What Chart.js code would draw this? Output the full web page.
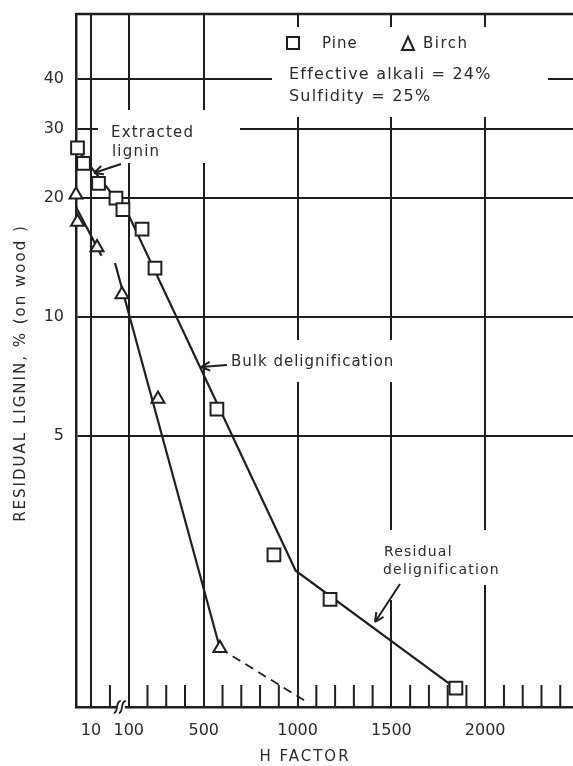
<!DOCTYPE html>
<html>
<head>
<meta charset="utf-8">
<script src="https://cdn.jsdelivr.net/npm/chart.js@4/dist/chart.umd.min.js"></script>
<style>
  html, body { margin: 0; padding: 0; background: #fff; }
</style>
</head>
<body>
<canvas id="graficoLignina" width="573" height="766"></canvas>
<script>
// measured points (H factor, residual lignin % on wood)
const pineH = [1, 5, 15, 32, 69, 171, 240, 570, 874, 1173, 1844];
const pineLignin = [26.8, 24.5, 21.8, 20.0, 18.7, 16.7, 13.3, 5.85, 2.50, 1.93, 1.15];
const birchH = [0, 1, 14, 64, 256, 586];
const birchLignin = [20.4, 17.4, 15.0, 11.4, 6.2, 1.45];

// drawn trend lines
const pineFitH = [0, 100, 990, 1830];
const pineFitLignin = [26.8, 18.1, 2.28, 1.16];
const birchEarlyH = [0, 17];
const birchEarlyLignin = [19.0, 14.3];
const birchBulkH = [27, 586];
const birchBulkLignin = [13.7, 1.45];
const birchTailH = [586, 1050];
const birchTailLignin = [1.45, 1.06];

// axes
const xTickValues = [10, 100, 500, 1000, 1500, 2000];
const xTickLabels = ['10', '100', '500', '1000', '1500', '2000'];
const yTickValues = [5, 10, 20, 30, 40];
const yTickLabels = ['5', '10', '20', '30', '40'];

// the H axis is broken: values below BREAK_H sit on a stretched stub
const BREAK_H = 20;
const LEFT_ORIGIN = -181;
const LEFT_STRETCH = 8;
const axisH = h => (h < BREAK_H ? LEFT_ORIGIN + h * LEFT_STRETCH : h);
const toPoints = (hs, vs) => hs.map((h, i) => ({ x: axisH(h), y: vs[i] }));

const INK = '#1f1f1f';
const FONT = '"DejaVu Sans", sans-serif';

// white patches where the lettering interrupts the grid
const gaps = [
  [98, 110, 240, 163],
  [272, 27, 548, 117],
  [222, 340, 405, 382],
  [378, 530, 505, 585],
  [386, 585, 398, 600]
];

function text(ctx, str, x, y, size, spacing) {
  ctx.font = size + 'px ' + FONT;
  ctx.letterSpacing = spacing + 'px';
  ctx.textBaseline = 'middle';
  ctx.fillText(str, x, y);
}

function arrow(ctx, x0, y0, x1, y1) {
  const ang = Math.atan2(y1 - y0, x1 - x0);
  ctx.beginPath();
  ctx.moveTo(x0, y0);
  ctx.lineTo(x1, y1);
  for (const s of [-1, 1]) {
    ctx.moveTo(x1, y1);
    ctx.lineTo(x1 - 10 * Math.cos(ang + s * 0.45), y1 - 10 * Math.sin(ang + s * 0.45));
  }
  ctx.stroke();
}

const decor = {
  id: 'decor',
  beforeDatasetsDraw(chart) {
    const { ctx, chartArea: a, scales: { x } } = chart;
    ctx.save();
    ctx.fillStyle = '#fff';
    gaps.forEach(([x0, y0, x1, y1]) => ctx.fillRect(x0, y0, x1 - x0, y1 - y0));

    ctx.strokeStyle = INK;
    ctx.lineWidth = 2.5;
    ctx.beginPath();
    ctx.moveTo(a.left, a.top);
    ctx.lineTo(a.right, a.top);
    ctx.stroke();

    // short ticks every 100 along the H axis
    ctx.lineWidth = 2;
    ctx.beginPath();
    for (let h = 0; h <= 2400; h += 100) {
      if (xTickValues.includes(h)) continue;
      const px = x.getPixelForValue(h);
      ctx.moveTo(px, a.bottom);
      ctx.lineTo(px, a.bottom - 22);
    }
    ctx.stroke();

    // break mark
    const bx = x.getPixelForValue(58);
    ctx.fillStyle = '#fff';
    ctx.fillRect(bx - 4, a.bottom - 6, 8, 12);
    ctx.lineWidth = 1.8;
    for (const dx of [-3, 2]) {
      ctx.beginPath();
      ctx.moveTo(bx + dx - 4, a.bottom + 6);
      ctx.bezierCurveTo(bx + dx + 1, a.bottom + 6, bx + dx - 3, a.bottom - 6, bx + dx + 3, a.bottom - 6);
      ctx.stroke();
    }

    // legend and cooking conditions
    ctx.fillStyle = '#2a2a2a';
    ctx.lineWidth = 2;
    ctx.strokeRect(287, 37, 12, 12);
    text(ctx, 'Pine', 322, 44, 15, 1);
    ctx.beginPath();
    ctx.moveTo(408, 37);
    ctx.lineTo(414, 50);
    ctx.lineTo(402, 50);
    ctx.closePath();
    ctx.stroke();
    text(ctx, 'Birch', 423, 44, 15, 1.5);
    text(ctx, 'Effective alkali = 24%', 289, 75, 16, 1.2);
    text(ctx, 'Sulfidity = 25%', 289, 97, 16, 1.2);

    // callouts
    text(ctx, 'Extracted', 111, 133, 15, 1.2);
    text(ctx, 'lignin', 112, 152, 15, 1.2);
    arrow(ctx, 121, 164, 94, 173);
    text(ctx, 'Bulk delignification', 231, 362, 15, 1);
    arrow(ctx, 227, 365, 201, 367);
    text(ctx, 'Residual', 384, 552, 14, 1.2);
    text(ctx, 'delignification', 383, 570, 14, 1.2);
    arrow(ctx, 400, 584, 375, 622);

    // axis titles
    ctx.textAlign = 'center';
    text(ctx, 'H FACTOR', 305, 757, 15, 2);
    ctx.translate(21, 373);
    ctx.rotate(-Math.PI / 2);
    text(ctx, 'RESIDUAL LIGNIN, % (on wood )', 0, 0, 15, 2);
    ctx.restore();
  }
};

const lineSet = (data, extra) => Object.assign({
  data, showLine: true, borderColor: INK, borderWidth: 2.2,
  pointRadius: 0, order: 2, clip: false
}, extra);

const markSet = (data, style, radius) => ({
  data, showLine: false, pointStyle: style, pointRadius: radius, clip: false,
  pointBackgroundColor: '#fff', pointBorderColor: INK, pointBorderWidth: 2, order: 1
});

new Chart(document.getElementById('graficoLignina'), {
  type: 'scatter',
  data: {
    datasets: [
      lineSet(toPoints(pineFitH, pineFitLignin)),
      lineSet(toPoints(birchEarlyH, birchEarlyLignin)),
      lineSet(toPoints(birchBulkH, birchBulkLignin)),
      lineSet(toPoints(birchTailH, birchTailLignin), { borderDash: [9, 6], borderWidth: 1.8 }),
      markSet(toPoints(pineH, pineLignin), 'rect', 9),
      markSet(toPoints(birchH, birchLignin), 'triangle', 7.5)
    ]
  },
  options: {
    responsive: false,
    animation: false,
    layout: { autoPadding: false, padding: { top: 14, right: 0, left: 0, bottom: 0 } },
    plugins: { legend: { display: false }, tooltip: { enabled: false } },
    scales: {
      x: {
        type: 'linear',
        min: axisH(0),
        max: 2468,
        afterBuildTicks: s => { s.ticks = xTickValues.map(h => ({ value: axisH(h) })); },
        afterFit: s => { s.height = 59; s.paddingLeft = 0; s.paddingRight = 0; },
        ticks: {
          callback: (v, i) => xTickLabels[i],
          autoSkip: false, maxRotation: 0, padding: 14,
          color: '#2a2a2a', font: { family: FONT, size: 16 }
        },
        grid: { color: INK, lineWidth: 2, drawTicks: false },
        border: { color: INK, width: 2.5 }
      },
      y: {
        type: 'logarithmic',
        min: 1.03,
        max: 58.5,
        afterBuildTicks: s => { s.ticks = yTickValues.map(v => ({ value: v })); },
        afterFit: s => { s.width = 76; s.paddingTop = 0; s.paddingBottom = 0; },
        ticks: {
          callback: (v, i) => yTickLabels[i],
          autoSkip: false, padding: 12,
          color: '#2a2a2a', font: { family: FONT, size: 16 }
        },
        grid: { color: INK, lineWidth: 2, drawTicks: false },
        border: { color: INK, width: 2.5 }
      }
    }
  },
  plugins: [decor]
});
</script>
</body>
</html>
